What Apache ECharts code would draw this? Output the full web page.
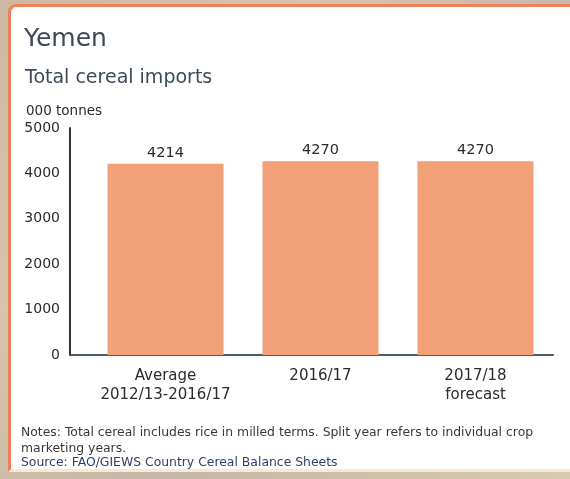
<!DOCTYPE html>
<html>
<head>
<meta charset="utf-8">
<script src="https://cdn.jsdelivr.net/npm/echarts@6/dist/echarts.min.js"></script>
<style>
html,body{margin:0;padding:0;}
body{width:570px;height:479px;overflow:hidden;position:relative;
 background:linear-gradient(135deg,#cbb9a4 0%,#d8c4a8 30%,#c4b6a8 60%,#d9c9b0 100%);}
#panel{position:absolute;left:8px;top:4px;width:570px;height:468px;background:#fff;
 border-left:3px solid #ef7f5c;border-top:3px solid #ef7f5c;border-bottom:3px solid #f6ebcc;border-top-left-radius:8px;box-sizing:border-box;}
#chart{position:absolute;left:0;top:0;width:570px;height:479px;}
</style>
</head>
<body>
<div id="panel"></div>
<div id="chart"></div>
<script>
var categories = ['Average\n2012/13-2016/17', '2016/17', '2017/18\nforecast'];
var imports = [4214, 4270, 4270];
var yTicks = [0, 1000, 2000, 3000, 4000, 5000];

var chart = echarts.init(document.getElementById('chart'), null, {renderer: 'canvas'});
var titleColor = '#3d4a56';
var textColor = '#2b2b2b';
var fontFam = '"DejaVu Sans", sans-serif';
chart.setOption({
  backgroundColor: 'transparent',
  animation: false,
  textStyle: {fontFamily: fontFam},
  title: [
    {text: 'Yemen', left: 19, top: 22, textStyle: {fontFamily: fontFam, fontSize: 25, fontWeight: 'normal', color: titleColor}},
    {text: 'Total cereal imports', left: 20, top: 64, textStyle: {fontFamily: fontFam, fontSize: 19, fontWeight: 'normal', color: titleColor}},
    {text: '000 tonnes', left: 21, top: 99, textStyle: {fontFamily: fontFam, fontSize: 13.5, fontWeight: 'normal', color: textColor}}
  ],
  graphic: [
    {type: 'text', left: 21, top: 427, style: {text: 'Notes: Total cereal includes rice in milled terms. Split year refers to individual crop', fontFamily: fontFam, fontSize: 12.4, fill: '#383838'}},
    {type: 'text', left: 21, top: 443, style: {text: 'marketing years.', fontFamily: fontFam, fontSize: 12.4, fill: '#383838'}},
    {type: 'text', left: 21, top: 457, style: {text: 'Source: FAO/GIEWS Country Cereal Balance Sheets', fontFamily: fontFam, fontSize: 12.4, fill: '#343d68'}},
    {type: 'line', shape: {x1: 70, y1: 355, x2: 88, y2: 355}, style: {stroke: '#4d5b6b', lineWidth: 2}}
  ],
  grid: {left: 88, right: 17, top: 128, bottom: 124, containLabel: false},
  xAxis: {
    type: 'category',
    data: categories,
    axisLine: {show: true, lineStyle: {color: '#4d5b6b', width: 2}},
    axisTick: {show: false},
    axisLabel: {interval: 0, color: textColor, fontSize: 15, lineHeight: 19, margin: 12, fontFamily: fontFam}
  },
  yAxis: {
    type: 'value',
    min: yTicks[0],
    max: yTicks[yTicks.length - 1],
    interval: 1000,
    offset: 18,
    axisLine: {show: true, lineStyle: {color: '#333', width: 2}},
    axisTick: {show: false},
    splitLine: {show: false},
    axisLabel: {color: textColor, fontSize: 14, margin: 10, fontFamily: fontFam, formatter: function (v) { return String(v); }}
  },
  series: [{
    type: 'bar',
    data: imports,
    barWidth: 116,
    itemStyle: {color: '#f2a077'},
    label: {show: true, position: 'top', distance: 3, color: textColor, fontSize: 14.5, fontFamily: fontFam}
  }]
});
</script>
</body>
</html>
